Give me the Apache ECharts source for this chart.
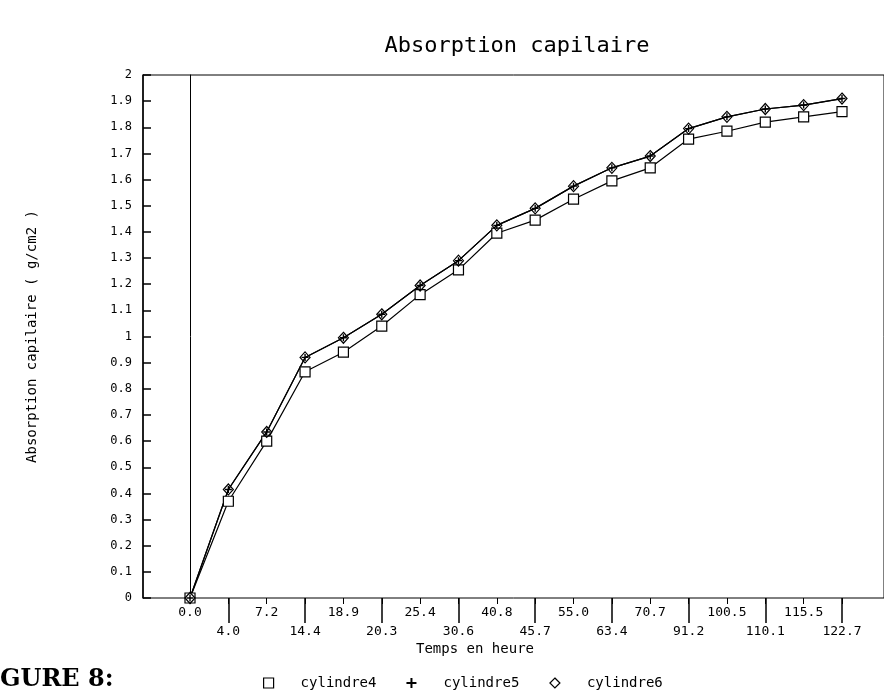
<!DOCTYPE html>
<html lang="fr">
<head>
    <meta charset="UTF-8">
    <title>Absorption capilaire</title>
    <style>
        html, body { margin: 0; padding: 0; background: #fff; }
        #main { width: 884px; height: 691px; }
    </style>
</head>
<body>
<div id="main"></div>
<script src="https://cdn.jsdelivr.net/npm/echarts@6/dist/echarts.min.js"></script>
<script>
    // temps en heure (categories de l'axe x)
    let timeLabels = ['0.0', '4.0', '7.2', '14.4', '18.9', '20.3', '25.4', '30.6', '40.8',
        '45.7', '55.0', '63.4', '70.7', '91.2', '100.5', '110.1', '115.5', '122.7'];

    // absorption capillaire (g/cm2)
    let cylindre4 = [0, 0.37, 0.60, 0.865, 0.94, 1.04, 1.16, 1.255, 1.395,
        1.445, 1.525, 1.595, 1.645, 1.755, 1.785, 1.82, 1.84, 1.86];
    let cylindre5 = [0, 0.415, 0.635, 0.92, 0.995, 1.085, 1.195, 1.29, 1.425,
        1.49, 1.575, 1.645, 1.69, 1.795, 1.84, 1.87, 1.885, 1.91];
    let cylindre6 = [0, 0.415, 0.635, 0.92, 0.995, 1.085, 1.195, 1.29, 1.425,
        1.49, 1.575, 1.645, 1.69, 1.795, 1.84, 1.87, 1.885, 1.91];

    let mono = '"DejaVu Sans Mono", monospace';
    let plusPath = 'path://M4,0H6V4H10V6H6V10H4V6H0V4H4Z';

    let myChart = echarts.init(document.getElementById('main'));

    let option = {
        backgroundColor: '#fff',
        animation: false,
        title: {
            text: 'Absorption capilaire',
            left: 512,
            textAlign: 'center',
            top: 30,
            textStyle: {fontFamily: mono, fontSize: 22, fontWeight: 'normal', color: '#000'}
        },
        legend: {
            left: 258,
            top: 671,
            itemWidth: 10,
            itemHeight: 10,
            itemGap: 30,
            textStyle: {fontFamily: mono, fontSize: 14, color: '#000', padding: [0, 0, 0, 22]},
            data: [
                {name: 'cylindre4', icon: 'rect', itemStyle: {color: '#fff', borderColor: '#000', borderWidth: 1.2}},
                {name: 'cylindre5', icon: plusPath, itemStyle: {color: '#000', borderWidth: 0}},
                {name: 'cylindre6', icon: 'diamond', itemStyle: {color: '#fff', borderColor: '#000', borderWidth: 1.2}}
            ]
        },
        // cadre + axe y, puis zone des donnees
        grid: [
            {left: 143, top: 75, width: 780, height: 523, show: true, borderColor: '#000', borderWidth: 1},
            {left: 190, top: 75, width: 652, height: 523}
        ],
        xAxis: [
            {gridIndex: 0, type: 'value', show: false},
            {
                gridIndex: 1,
                type: 'category',
                position: 'bottom',
                data: timeLabels,
                boundaryGap: false,
                axisLine: {show: false},
                axisTick: {show: true, interval: 0, length: 6, lineStyle: {color: '#000', width: 1}},
                axisLabel: {
                    interval: 0,
                    margin: 5,
                    lineHeight: 19,
                    fontFamily: mono,
                    fontSize: 13,
                    color: '#000',
                    formatter: (value, index) => index % 2 === 1 ? '\n' + value : value
                },
                splitLine: {show: false}
            },
            {
                gridIndex: 1,
                type: 'category',
                position: 'bottom',
                data: timeLabels,
                boundaryGap: false,
                axisLine: {show: false},
                axisTick: {show: true, interval: (index) => index % 2 === 1, length: 25, lineStyle: {color: '#000', width: 1.5}},
                axisLabel: {show: false},
                splitLine: {show: false}
            }
        ],
        yAxis: [
            {
                gridIndex: 0,
                type: 'value',
                min: 0,
                max: 2,
                interval: 0.1,
                name: 'Absorption capilaire ( g/cm2 )',
                nameLocation: 'middle',
                nameGap: 104,
                nameTextStyle: {fontFamily: mono, fontSize: 14, color: '#000'},
                axisLine: {show: true, lineStyle: {color: '#000', width: 1.5}},
                axisTick: {show: true, inside: true, length: 8, lineStyle: {color: '#000', width: 1.5}},
                axisLabel: {margin: 11, fontFamily: mono, fontSize: 12, color: '#000'},
                splitLine: {show: false}
            },
            {
                gridIndex: 1,
                type: 'value',
                min: 0,
                max: 2,
                interval: 0.1,
                axisLine: {show: true, lineStyle: {color: '#000', width: 1}},
                axisTick: {show: false},
                axisLabel: {show: false},
                splitLine: {show: false}
            }
        ],
        graphic: [
            {
                type: 'text',
                left: 416,
                top: 642,
                style: {text: 'Temps en heure', font: '14px ' + mono, fill: '#000'}
            },
            {
                type: 'text',
                left: 0,
                top: 668,
                style: {text: 'GURE 8:', font: 'bold 24px "DejaVu Serif", serif', fill: '#000'}
            }
        ],
        series: [
            {
                name: 'cylindre4',
                type: 'line',
                xAxisIndex: 1,
                yAxisIndex: 1,
                data: cylindre4,
                symbol: 'rect',
                symbolSize: 10,
                showAllSymbol: true,
                lineStyle: {color: '#000', width: 1.2},
                itemStyle: {color: '#fff', borderColor: '#000', borderWidth: 1.2}
            },
            {
                name: 'cylindre5',
                type: 'line',
                xAxisIndex: 1,
                yAxisIndex: 1,
                data: cylindre5,
                symbol: plusPath,
                symbolSize: 7,
                showAllSymbol: true,
                lineStyle: {color: '#000', width: 1.2},
                itemStyle: {color: '#000', borderWidth: 0}
            },
            {
                name: 'cylindre6',
                type: 'line',
                xAxisIndex: 1,
                yAxisIndex: 1,
                data: cylindre6,
                symbol: 'diamond',
                symbolSize: [10, 11],
                showAllSymbol: true,
                lineStyle: {color: '#000', width: 1.2},
                itemStyle: {color: 'rgba(255,255,255,0)', borderColor: '#000', borderWidth: 1.2}
            }
        ]
    };

    myChart.setOption(option);
</script>
</body>
</html>
